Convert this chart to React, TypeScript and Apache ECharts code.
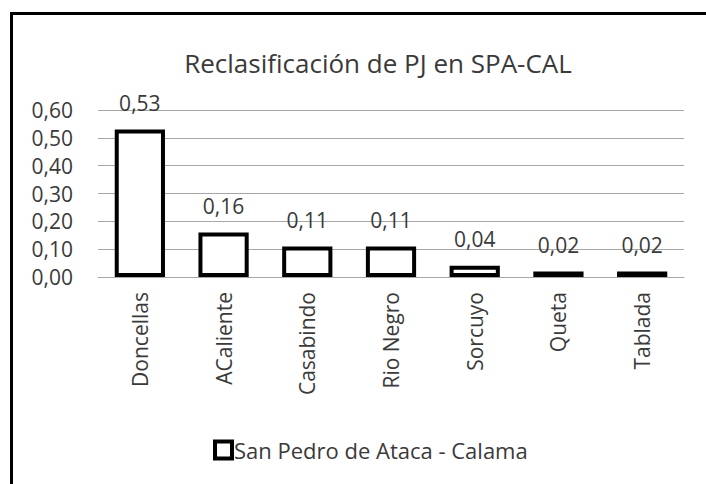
import React, { useEffect, useRef } from "react";
import * as echarts from "echarts";

const categories = ["Doncellas", "ACaliente", "Casabindo", "Rio Negro", "Sorcuyo", "Queta", "Tablada"];
const values = [0.53, 0.16, 0.11, 0.11, 0.04, 0.02, 0.02];
const seriesName = "San Pedro de Ataca - Calama";
const titleText = "Reclasificación de PJ en SPA-CAL";

const fmt = (v: number) => v.toFixed(2).replace(".", ",");
const FONT = "Open Sans";
const TEXT = "#3a3a3a";

export default function App() {
  const ref = useRef<HTMLDivElement>(null);
  useEffect(() => {
    if (!ref.current) return;
    const chart = echarts.init(ref.current, undefined, { renderer: "svg" });
    chart.setOption({
      animation: false,
      backgroundColor: "#ffffff",
      title: {
        text: titleText,
        left: 373,
        textAlign: "center",
        top: 45,
        textStyle: { fontFamily: FONT, fontSize: 26, fontWeight: "normal", color: TEXT },
      },
      grid: { left: 98, right: 22, top: 110, bottom: 207 },
      legend: {
        bottom: 18,
        left: 208,
        itemWidth: 17,
        itemHeight: 17,
        icon: "rect",
        itemStyle: { color: "#ffffff", borderColor: "#000000", borderWidth: 4 },
        textStyle: { fontFamily: FONT, fontSize: 22, color: TEXT, padding: [0, 0, 0, -3] },
        data: [seriesName],
      },
      xAxis: {
        type: "category",
        data: categories,
        axisLine: { lineStyle: { color: "#a6a6a6", width: 1 } },
        axisTick: { show: false },
        axisLabel: { rotate: 90, margin: 15, fontFamily: FONT, fontSize: 21, color: TEXT },
      },
      yAxis: {
        type: "value",
        min: 0,
        max: 0.6,
        interval: 0.1,
        axisLine: { show: false },
        axisTick: { show: false },
        splitLine: { lineStyle: { color: "#a6a6a6", width: 1 } },
        axisLabel: { margin: 25, fontFamily: FONT, fontSize: 21, color: TEXT, formatter: (v: number) => fmt(v) },
      },
      series: [
        {
          name: seriesName,
          type: "bar",
          data: values,
          barWidth: "60%",
          itemStyle: { color: "#ffffff", borderColor: "#000000", borderWidth: 4 },
          label: {
            show: true,
            position: "top",
            distance: 16,
            fontFamily: FONT,
            fontSize: 21,
            color: TEXT,
            formatter: (p: any) => fmt(p.value),
          },
        },
      ],
      graphic: [
        {
          type: "rect",
          shape: { x: 11.5, y: 13.5, width: 900, height: 700 },
          style: { fill: "none", stroke: "#000000", lineWidth: 3 },
          silent: true,
          z: 100,
        },
      ],
    });
    return () => chart.dispose();
  }, []);
  return (
    <div
      ref={ref}
      style={{ position: "fixed", left: 0, top: 0, width: 706, height: 484, background: "#fff" }}
    />
  );
}
